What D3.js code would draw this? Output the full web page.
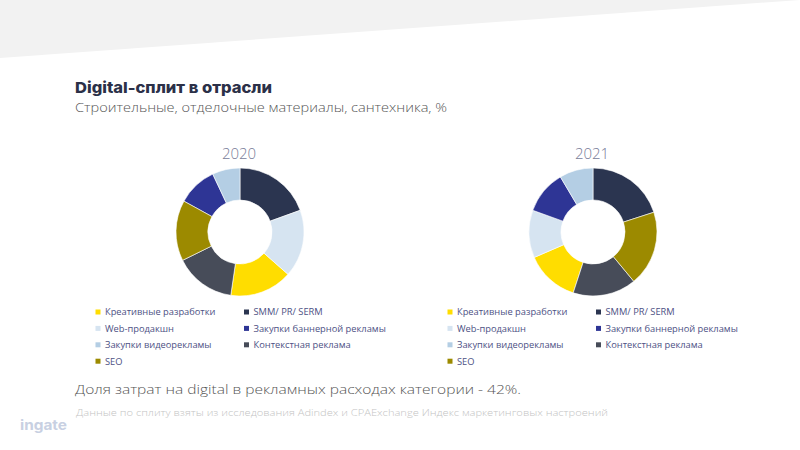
<!DOCTYPE html>
<html><head><meta charset="utf-8">
<script src="https://cdn.jsdelivr.net/npm/d3@7"></script>
<style>html,body{margin:0;padding:0;background:#fff;}svg{display:block;}</style>
</head><body>
<svg id="c" width="800" height="450"></svg>
<script>
const categories = ["Креативные разработки","SMM/ PR/ SERM","Web-продакшн","Закупки баннерной рекламы","Закупки видеорекламы","Контекстная реклама","SEO"];
const values2020 = [15.8, 19.5, 17, 10, 7, 15.4, 15.3];
const values2021 = [13.5, 20, 12, 11, 8.5, 16, 19];
const years = ["2020","2021"];
const colors = ["#ffdd00","#2b3550","#d6e4f1","#2e3595","#b4cee4","#474c59","#9c8a00"];

const svg = d3.select("#c");
// background wedge
svg.append("polygon").attr("points","0,0 800,0 0,58").attr("fill","#f2f2f2");

svg.append("text").attr("x",75).attr("y",93).attr("font-family","Inter, 'Open Sans', sans-serif")
  .attr("font-weight",800).attr("font-size",15).attr("fill","#2b3048")
  .attr("textLength",197).attr("lengthAdjust","spacingAndGlyphs").text("Digital-сплит в отрасли");
svg.append("text").attr("x",75).attr("y",112).attr("font-family","'Open Sans', sans-serif")
  .attr("font-weight",300).attr("font-size",13).attr("fill","#555")
  .attr("textLength",372).attr("lengthAdjust","spacingAndGlyphs").text("Строительные, отделочные материалы, сантехника, %");

const color = d3.scaleOrdinal().domain(categories).range(colors);
const pie = d3.pie().value(d => d.v);
const arc = d3.arc().innerRadius(32).outerRadius(64);

const charts = [
  {year: years[0], vals: values2020, cx: 240, lx: 98},
  {year: years[1], vals: values2021, cx: 593, lx: 450}
];
charts.forEach(c => {
  const g = svg.append("g").attr("transform", `translate(${c.cx},232)`);
  const data = categories.map((k,i) => ({k, v: c.vals[i]}));
  g.selectAll("path").data(pie(data)).join("path")
    .attr("d", arc).attr("fill", d => color(d.data.k))
    .attr("stroke","#fff").attr("stroke-width",0.6);
  svg.append("text").attr("x", c.cx-1).attr("y",159).attr("text-anchor","middle")
    .attr("font-family","'Open Sans', sans-serif").attr("font-weight",300)
    .attr("font-size",15).attr("fill","#787c98").text(c.year);
  const lg = svg.append("g");
  categories.forEach((k,i) => {
    const col = i % 2, row = Math.floor(i/2);
    const x = c.lx + col*148.5, y = 312 + row*16.4;
    lg.append("rect").attr("x", x-2.5).attr("y", y-2.5).attr("width",5).attr("height",5).attr("fill", color(k));
    lg.append("text").attr("x", x+7).attr("y", y+3.4).attr("font-family","'Open Sans', sans-serif")
      .attr("font-size",9.3).attr("fill","#4d5184").text(k);
  });
});

svg.append("text").attr("x",75).attr("y",394).attr("font-family","'Open Sans', sans-serif")
  .attr("font-weight",300).attr("font-size",13).attr("fill","#555")
  .attr("textLength",446).attr("lengthAdjust","spacingAndGlyphs")
  .text("Доля затрат на digital в рекламных расходах категории  - 42%.");
svg.append("text").attr("x",76).attr("y",416).attr("font-family","'Open Sans', sans-serif")
  .attr("font-weight",300).attr("font-size",9).attr("fill","#c4c4c4")
  .attr("textLength",532).attr("lengthAdjust","spacingAndGlyphs")
  .text("Данные по сплиту взяты из исследования Adindex и CPAExchange Индекс маркетинговых настроений");
svg.append("text").attr("x",20).attr("y",430).attr("font-family","Inter, sans-serif")
  .attr("font-weight",700).attr("font-size",14).attr("fill","#c8d0e2")
  .attr("textLength",47).attr("lengthAdjust","spacingAndGlyphs").text("ingate");
</script>
</body></html>
